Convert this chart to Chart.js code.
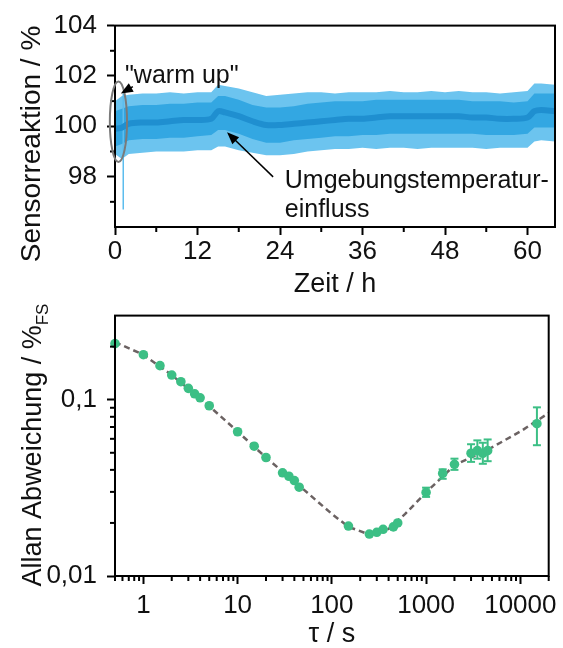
<!DOCTYPE html>
<html lang="de">
<head>
<meta charset="UTF-8">
<title>Sensorreaktion und Allan-Abweichung</title>
<script src="https://cdn.jsdelivr.net/npm/chart.js"></script>
<style>
  body { margin: 0; background: #fff; }
  #wrap { position: relative; width: 563px; height: 648px; }
  #topChart { position: absolute; left: 0; top: 0; }
  #bottomChart { position: absolute; left: 0; top: 290px; }
</style>
</head>
<body>
<div id="wrap">
  <canvas id="topChart" width="563" height="300"></canvas>
  <canvas id="bottomChart" width="563" height="358"></canvas>
</div>
<script>
// ---- oberes Diagramm: Sensorreaktion ueber Zeit (Baender)
const timeH   = [0, 1, 2, 4, 6, 8, 10, 12, 14, 15, 16, 18, 20, 22, 24, 26, 28, 30, 32, 34, 36, 38, 40, 42, 44, 46, 48, 50, 52, 54, 56, 58, 60, 61, 62, 64];
const meanVal = [99.9, 99.95, 100.1, 100.15, 100.15, 100.2, 100.25, 100.25, 100.3, 100.6, 100.55, 100.4, 100.2, 100.05, 100.05, 100.1, 100.15, 100.2, 100.25, 100.3, 100.3, 100.35, 100.4, 100.4, 100.4, 100.4, 100.4, 100.4, 100.35, 100.35, 100.3, 100.3, 100.35, 100.6, 100.65, 100.6];
const innerHi = [100.6, 100.7, 100.8, 100.85, 100.85, 100.9, 100.9, 100.95, 100.95, 101.2, 101.2, 101.05, 100.85, 100.75, 100.75, 100.8, 100.9, 100.95, 101.0, 101.0, 101.0, 101.05, 101.05, 101.05, 101.05, 101.05, 101.05, 101.05, 101.0, 101.0, 101.0, 100.95, 101.0, 101.3, 101.3, 101.3];
const innerLo = [99.2, 99.3, 99.45, 99.5, 99.5, 99.55, 99.55, 99.6, 99.65, 99.85, 99.85, 99.7, 99.5, 99.35, 99.35, 99.45, 99.5, 99.55, 99.6, 99.6, 99.65, 99.65, 99.7, 99.7, 99.7, 99.7, 99.7, 99.7, 99.7, 99.65, 99.65, 99.65, 99.7, 99.95, 99.95, 99.95];
const outerHi = [101.0, 101.2, 101.25, 101.3, 101.3, 101.35, 101.3, 101.35, 101.35, 101.65, 101.6, 101.5, 101.35, 101.2, 101.25, 101.3, 101.35, 101.35, 101.3, 101.35, 101.35, 101.35, 101.4, 101.35, 101.35, 101.4, 101.35, 101.4, 101.35, 101.35, 101.3, 101.35, 101.4, 101.7, 101.7, 101.65];
const outerLo = [98.9, 98.7, 98.9, 98.95, 99.0, 99.0, 99.0, 99.05, 99.05, 99.2, 99.2, 99.05, 98.95, 98.85, 98.85, 98.9, 99.0, 99.05, 99.1, 99.1, 99.15, 99.1, 99.15, 99.15, 99.1, 99.15, 99.15, 99.15, 99.15, 99.1, 99.15, 99.15, 99.15, 99.4, 99.45, 99.4];
const spikeTime = [1.2, 1.2];
const spikeVal  = [96.7, 101.3];
const timeTicks  = [0, 12, 24, 36, 48, 60];
const timeMinor  = [6, 18, 30, 42, 54];
const valueTicks = [98, 100, 102, 104];
const valueMinor = [97, 99, 101, 103];

// ---- unteres Diagramm: Allan-Abweichung
const tauS     = [0.5, 1, 1.5, 2, 2.5, 3, 3.5, 4, 5, 10, 15, 20, 30, 35, 40, 45, 150, 250, 300, 350, 450, 500, 1000, 1500, 2000, 3000, 3500, 4000, 4500, 15000];
const allanDev = [0.208, 0.180, 0.156, 0.138, 0.1265, 0.116, 0.108, 0.1025, 0.0924, 0.0658, 0.0545, 0.047, 0.0385, 0.0368, 0.0348, 0.0319, 0.0192, 0.0173, 0.0177, 0.0184, 0.019, 0.020, 0.0298, 0.0382, 0.043, 0.0497, 0.0514, 0.0497, 0.0514, 0.0731];
const errLow   = [null, null, null, null, null, null, null, null, null, null, null, null, null, null, null, null, null, null, null, null, null, null, 0.0281, 0.0356, 0.0400, 0.0444, 0.0463, 0.0433, 0.0448, 0.0552];
const errHigh  = [null, null, null, null, null, null, null, null, null, null, null, null, null, null, null, null, null, null, null, null, null, null, 0.0317, 0.0403, 0.0463, 0.0559, 0.0588, 0.0570, 0.0595, 0.0905];
const tauFit   = [0.5, 1, 2, 5, 10, 20, 50, 100, 150, 250, 400, 600, 1000, 2000, 4500, 10000, 20000];
const devFit   = [0.212, 0.180, 0.138, 0.092, 0.066, 0.047, 0.031, 0.0225, 0.0190, 0.0172, 0.0185, 0.0225, 0.0298, 0.0425, 0.052, 0.066, 0.084];
const tauTicks = [1, 10, 100, 1000, 10000];
const devTicks = [0.01, 0.1];

const FONT = "'Liberation Sans', Arial, Helvetica, sans-serif";
Chart.defaults.font.family = FONT;
Chart.defaults.color = '#111';

const pts = (xs, ys) => xs.map((v, i) => ({ x: v, y: ys[i] }));

function line(ctx, x1, y1, x2, y2) {
  ctx.beginPath(); ctx.moveTo(x1, y1); ctx.lineTo(x2, y2); ctx.stroke();
}
function arrow(ctx, x1, y1, x2, y2, head) {
  const ang = Math.atan2(y2 - y1, x2 - x1);
  ctx.lineWidth = 1.5;
  line(ctx, x1, y1, x2 - Math.cos(ang) * head * 0.8, y2 - Math.sin(ang) * head * 0.8);
  ctx.beginPath();
  ctx.moveTo(x2, y2);
  ctx.lineTo(x2 - head * Math.cos(ang - 0.38), y2 - head * Math.sin(ang - 0.38));
  ctx.lineTo(x2 - head * Math.cos(ang + 0.38), y2 - head * Math.sin(ang + 0.38));
  ctx.closePath();
  ctx.fill();
}
function axisBase(ticksList, fmt, padding) {
  return {
    afterBuildTicks: s => { s.ticks = ticksList.map(v => ({ value: v })); },
    grid: { drawOnChartArea: false, tickLength: 8, tickWidth: 2, tickColor: '#000' },
    border: { color: '#000', width: 2 },
    ticks: { font: { size: 26 }, color: '#111', padding: padding, autoSkip: false, maxRotation: 0, callback: fmt }
  };
}

// oberes Diagramm
const topDecor = {
  id: 'topDecor',
  afterDraw(chart) {
    const { ctx, chartArea: a, scales: { x, y } } = chart;
    ctx.save();
    ctx.strokeStyle = '#000';
    ctx.lineWidth = 2;
    timeMinor.forEach(v => { const p = x.getPixelForValue(v); line(ctx, p, a.bottom, p, a.bottom + 5); });
    valueMinor.forEach(v => { const p = y.getPixelForValue(v); line(ctx, a.left - 5, p, a.left, p); });
    ctx.strokeRect(a.left, a.top, a.right - a.left, a.bottom - a.top);

    // Ellipse "warm up"
    const cx = x.getPixelForValue(0.5), cy = y.getPixelForValue(100.18);
    const rx = x.getPixelForValue(1.75) - cx, ry = cy - y.getPixelForValue(101.78);
    ctx.strokeStyle = '#7a7a7a';
    ctx.lineWidth = 2;
    ctx.beginPath(); ctx.ellipse(cx, cy, rx, ry, 0, 0, Math.PI * 2); ctx.stroke();

    ctx.fillStyle = '#000';
    ctx.strokeStyle = '#000';
    arrow(ctx, x.getPixelForValue(2.6), y.getPixelForValue(101.58), x.getPixelForValue(0.85), y.getPixelForValue(101.3), 13);
    arrow(ctx, x.getPixelForValue(23.0), y.getPixelForValue(97.99), x.getPixelForValue(16.3), y.getPixelForValue(99.76), 13);

    ctx.fillStyle = '#111';
    ctx.font = '25px ' + FONT;
    ctx.textAlign = 'left';
    ctx.textBaseline = 'alphabetic';
    ctx.fillText('"warm up"', x.getPixelForValue(1.45), y.getPixelForValue(101.73));
    ctx.fillText('Umgebungstemperatur-', x.getPixelForValue(24.7), y.getPixelForValue(97.56));
    ctx.fillText('einfluss', x.getPixelForValue(24.7), y.getPixelForValue(96.38));

    // Achsentitel
    ctx.font = '27px ' + FONT;
    ctx.textAlign = 'center';
    ctx.textBaseline = 'middle';
    ctx.fillText('Zeit / h', (a.left + a.right) / 2, a.bottom + 58);
    ctx.translate(32, 144);
    ctx.rotate(-Math.PI / 2);
    ctx.font = '28px ' + FONT;
    ctx.fillText('Sensorreaktion / %', 0, 0);
    ctx.restore();
  }
};

new Chart(document.getElementById('topChart'), {
  type: 'line',
  data: {
    datasets: [
      { data: pts(timeH, outerHi), borderWidth: 0, pointRadius: 0, fill: '+1', backgroundColor: '#6cc4ef', order: 4 },
      { data: pts(timeH, outerLo), borderWidth: 0, pointRadius: 0, fill: false, order: 4 },
      { data: pts(timeH, innerHi), borderWidth: 0, pointRadius: 0, fill: '+1', backgroundColor: '#33a7e2', order: 3 },
      { data: pts(timeH, innerLo), borderWidth: 0, pointRadius: 0, fill: false, order: 3 },
      { data: pts(spikeTime, spikeVal), borderColor: '#5dbdee', borderWidth: 1.5, pointRadius: 0, fill: false, order: 2 },
      { data: pts(timeH, meanVal), borderColor: '#1f8fd0', borderWidth: 6, pointRadius: 0, fill: false, tension: 0.3, order: 1 }
    ]
  },
  options: {
    responsive: false,
    animation: false,
    devicePixelRatio: 1,
    layout: { padding: { top: 24, right: 8, left: 0, bottom: 0 } },
    plugins: { legend: { display: false }, tooltip: { enabled: false } },
    scales: {
      x: Object.assign(axisBase(timeTicks, v => String(v), 1), {
        type: 'linear', min: 0, max: 64,
        afterFit: s => { s.height = 73; }
      }),
      y: Object.assign(axisBase(valueTicks, v => String(v), 10), {
        type: 'linear', min: 96, max: 104,
        afterFit: s => { s.width = 115; }
      })
    }
  },
  plugins: [topDecor]
});

// unteres Diagramm
function minorLog(min, max) {
  const out = [];
  for (let e = Math.floor(Math.log10(min)); e <= Math.ceil(Math.log10(max)); e++) {
    for (let m = 2; m <= 9; m++) {
      const v = m * Math.pow(10, e);
      if (v >= min && v <= max) out.push(v);
    }
  }
  return out;
}

const bottomDecor = {
  id: 'bottomDecor',
  afterDatasetsDraw(chart) {
    const { ctx, scales: { x, y } } = chart;
    ctx.save();
    ctx.strokeStyle = '#3cbf85';
    ctx.lineWidth = 2;
    tauS.forEach((t, i) => {
      if (errLow[i] == null) return;
      const px = x.getPixelForValue(t);
      const y1 = y.getPixelForValue(errLow[i]), y2 = y.getPixelForValue(errHigh[i]);
      line(ctx, px, y1, px, y2);
      line(ctx, px - 4, y1, px + 4, y1);
      line(ctx, px - 4, y2, px + 4, y2);
    });
    ctx.restore();
  },
  afterDraw(chart) {
    const { ctx, chartArea: a, scales: { x, y } } = chart;
    ctx.save();
    ctx.strokeStyle = '#000';
    ctx.lineWidth = 2;
    minorLog(0.5, 20000).forEach(v => { const p = x.getPixelForValue(v); line(ctx, p, a.bottom, p, a.bottom + 5); });
    minorLog(0.01, 0.3).forEach(v => { const p = y.getPixelForValue(v); line(ctx, a.left - 5, p, a.left, p); });
    ctx.strokeRect(a.left, a.top, a.right - a.left, a.bottom - a.top);

    ctx.fillStyle = '#111';
    ctx.textBaseline = 'middle';
    ctx.textAlign = 'center';
    ctx.font = '27px ' + FONT;
    ctx.fillText('\u03C4 / s', (a.left + a.right) / 2, a.bottom + 59);

    // y-Titel mit Index FS
    const main = 'Allan Abweichung / %';
    ctx.font = '27px ' + FONT;
    const w1 = ctx.measureText(main).width;
    ctx.font = '17px ' + FONT;
    const w2 = ctx.measureText('FS').width;
    ctx.translate(34, 155);
    ctx.rotate(-Math.PI / 2);
    ctx.textAlign = 'left';
    ctx.font = '27px ' + FONT;
    ctx.fillText(main, -(w1 + w2) / 2, 0);
    ctx.font = '17px ' + FONT;
    ctx.fillText('FS', -(w1 + w2) / 2 + w1, 9);
    ctx.restore();
  }
};

new Chart(document.getElementById('bottomChart'), {
  type: 'line',
  data: {
    datasets: [
      { data: pts(tauFit, devFit), borderColor: '#6b6262', borderWidth: 2.5, borderDash: [6, 4], pointRadius: 0, fill: false, order: 2 },
      { data: pts(tauS, allanDev), showLine: false, pointRadius: 4.8, pointBackgroundColor: '#3cbf85', pointBorderWidth: 0, clip: false, order: 1 }
    ]
  },
  options: {
    responsive: false,
    animation: false,
    devicePixelRatio: 1,
    layout: { padding: { top: 16, right: 8, left: 0, bottom: 0 } },
    plugins: { legend: { display: false }, tooltip: { enabled: false } },
    scales: {
      x: Object.assign(axisBase(tauTicks, v => String(v), 6), {
        type: 'logarithmic', min: 0.5, max: 20000,
        afterFit: s => { s.height = 72; }
      }),
      y: Object.assign(axisBase(devTicks, v => String(v).replace('.', ','), 10), {
        type: 'logarithmic', min: 0.01, max: 0.3,
        afterFit: s => { s.width = 115; }
      })
    }
  },
  plugins: [bottomDecor]
});
</script>
</body>
</html>
